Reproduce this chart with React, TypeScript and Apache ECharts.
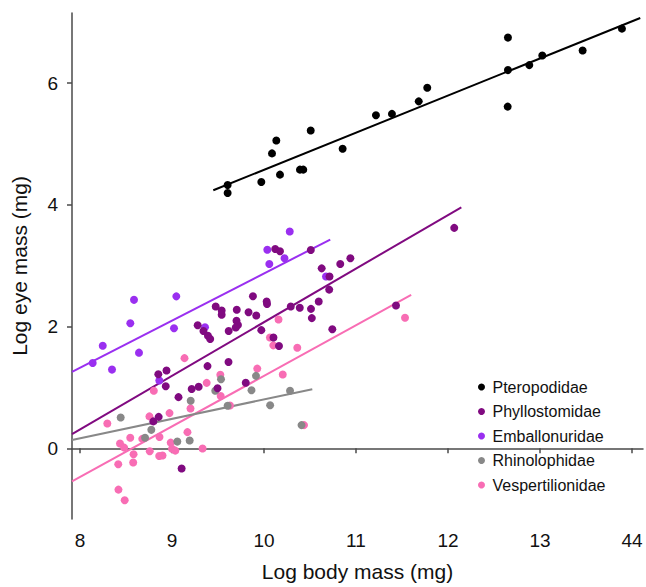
import React, { useEffect, useRef } from "react";
import * as echarts from "echarts";

// ---- Data ----
const familyNames = ["Pteropodidae", "Phyllostomidae", "Emballonuridae", "Rhinolophidae", "Vespertilionidae"];
const familyColors = ["#000000", "#800a80", "#9a2ff0", "#888888", "#f86db4"];

const xTickValues = [8, 9, 10, 11, 12, 13, 14];
const xTickLabels = ["8", "9", "10", "11", "12", "13", "44"];
const yTickValues = [0, 2, 4, 6];

const pteroX = [9.605, 9.605, 9.971, 10.087, 10.134, 10.174, 10.391, 10.427, 10.508, 10.855, 11.217, 11.391, 11.682, 11.775, 12.652, 12.652, 12.649, 12.884, 13.025, 13.464, 13.891];
const pteroY = [4.326, 4.195, 4.375, 4.845, 5.057, 4.496, 4.578, 4.578, 5.221, 4.921, 5.471, 5.494, 5.7, 5.925, 6.748, 6.214, 5.614, 6.296, 6.453, 6.535, 6.895];

const phylloX = [8.797, 8.855, 8.851, 8.94, 8.932, 9.071, 9.214, 9.29, 9.105, 9.279, 9.342, 9.391, 9.415, 9.386, 9.475, 9.54, 9.54, 9.614, 9.495, 9.616, 9.704, 9.701, 9.717, 9.693, 9.802, 9.832, 9.88, 9.916, 9.971, 10.029, 10.033, 10.103, 10.163, 10.122, 10.174, 10.291, 10.389, 10.509, 10.511, 10.52, 10.595, 10.627, 10.712, 10.709, 10.743, 10.829, 10.939, 12.068, 11.435];
const phylloY = [0.442, 0.516, 1.216, 1.277, 1.02, 0.84, 0.974, 1.011, -0.332, 2.021, 1.926, 1.849, 1.797, 1.35, 2.329, 2.263, 2.193, 1.419, 0.987, 1.926, 2.275, 2.095, 2.025, 1.984, 1.077, 2.234, 2.499, 2.182, 1.941, 2.411, 2.37, 1.82, 1.681, 3.273, 3.237, 2.329, 2.308, 3.257, 2.291, 2.139, 2.411, 2.956, 2.823, 2.607, 1.956, 3.028, 3.123, 3.622, 2.345];

const embaX = [8.138, 8.247, 8.348, 8.547, 8.587, 8.641, 8.862, 9.047, 9.022, 9.359, 10.036, 10.058, 10.223, 10.28, 10.674];
const embaY = [1.4, 1.686, 1.293, 2.054, 2.439, 1.571, 1.113, 2.496, 1.972, 1.989, 3.262, 3.028, 3.123, 3.563, 2.823];

const rhinoX = [8.442, 8.775, 8.707, 9.058, 9.192, 9.203, 9.47, 9.533, 9.605, 9.864, 9.913, 10.067, 10.283, 10.408];
const rhinoY = [0.507, 0.303, 0.172, 0.11, 0.128, 0.782, 0.944, 1.133, 0.699, 0.953, 1.19, 0.707, 0.944, 0.381];

const vespX = [8.297, 8.435, 8.48, 8.546, 8.416, 8.582, 8.578, 8.418, 8.486, 8.755, 8.802, 8.973, 8.677, 8.758, 8.864, 8.986, 9.0, 9.036, 8.861, 8.897, 9.168, 9.332, 9.201, 9.377, 9.525, 9.529, 9.63, 9.136, 9.927, 10.204, 10.158, 10.065, 10.101, 10.362, 11.533, 10.435];
const vespY = [0.406, 0.079, 0.011, 0.172, -0.262, -0.098, -0.234, -0.679, -0.854, 0.524, 0.944, 0.578, 0.155, -0.049, 0.185, 0.093, -0.008, -0.038, -0.126, -0.119, 0.265, -0.005, 0.655, 1.075, 1.208, 0.859, 0.704, 1.481, 1.309, 1.211, 2.116, 1.82, 1.691, 1.653, 2.144, 0.381];

// Regression line endpoints [x0, y0, x1, y1]
const pteroFit = [9.449, 4.24, 14.09, 7.07];
const phylloFit = [7.913, 0.234, 12.145, 3.96];
const embaFit = [7.913, 1.255, 10.72, 3.43];
const rhinoFit = [7.913, 0.136, 10.525, 0.97];
const vespFit = [7.913, -0.545, 11.6, 2.52];

const zip = (xs: number[], ys: number[]) => xs.map((x, i) => [x, ys[i]]);
const seg = (f: number[]) => [[f[0], f[1]], [f[2], f[3]]];

const FONT = "'Liberation Sans', Arial, Helvetica, sans-serif";

export default function App() {
  const ref = useRef<HTMLDivElement>(null);
  useEffect(() => {
    document.body.style.margin = "0";
    const chart = echarts.init(ref.current!, null, { renderer: "svg" });
    // draw order: pink, grey, violet, purple, black
    const groups = [
      { idx: 4, xs: vespX, ys: vespY, fit: vespFit },
      { idx: 3, xs: rhinoX, ys: rhinoY, fit: rhinoFit },
      { idx: 2, xs: embaX, ys: embaY, fit: embaFit },
      { idx: 1, xs: phylloX, ys: phylloY, fit: phylloFit },
      { idx: 0, xs: pteroX, ys: pteroY, fit: pteroFit },
    ];
    const series: any[] = [];
    groups.forEach((g) => {
      series.push({
        type: "line",
        name: familyNames[g.idx],
        data: seg(g.fit),
        symbol: "none",
        lineStyle: { color: familyColors[g.idx], width: 2 },
        itemStyle: { color: familyColors[g.idx] },
        silent: true,
        z: 2,
      });
    });
    groups.forEach((g) => {
      series.push({
        type: "scatter",
        name: familyNames[g.idx],
        data: zip(g.xs, g.ys),
        symbol: "circle",
        symbolSize: 8,
        itemStyle: { color: familyColors[g.idx], opacity: 1 },
        z: 3,
      });
    });
    const axisColor = "#4a4a4a";
    chart.setOption({
      animation: false,
      textStyle: { fontFamily: FONT },
      grid: { left: 72, right: 3, top: 13, bottom: 66, containLabel: false },
      xAxis: {
        type: "value",
        min: 7.913,
        max: 14.12,
        name: "Log body mass (mg)",
        nameLocation: "middle",
        nameGap: 42,
        nameTextStyle: { fontSize: 21, color: "#111", fontFamily: FONT },
        axisLine: { show: true, lineStyle: { color: axisColor, width: 1.5 } },
        axisTick: { show: true, length: 5, customValues: xTickValues, lineStyle: { color: axisColor, width: 1.5 } },
        axisLabel: {
          customValues: xTickValues,
          fontSize: 19,
          color: "#111",
          margin: 12,
          fontFamily: FONT,
          formatter: (v: number) => {
            const i = xTickValues.indexOf(Math.round(v));
            return i >= 0 ? xTickLabels[i] : "";
          },
        },
        splitLine: { show: false },
      },
      yAxis: {
        type: "value",
        min: -1.162,
        max: 7.152,
        name: "Log eye mass (mg)",
        nameLocation: "middle",
        nameGap: 42,
        nameRotate: 90,
        nameTextStyle: { fontSize: 21, color: "#111", fontFamily: FONT },
        axisLine: { show: true, lineStyle: { color: axisColor, width: 1.5 } },
        axisTick: { show: true, length: 5, customValues: yTickValues, lineStyle: { color: axisColor, width: 1.5 } },
        axisLabel: {
          customValues: yTickValues,
          fontSize: 19,
          color: "#111",
          margin: 14,
          fontFamily: FONT,
          formatter: (v: number) => String(Math.round(v)),
        },
        splitLine: { show: false },
      },
      legend: {
        data: familyNames,
        orient: "vertical",
        left: 473,
        top: 374,
        icon: "circle",
        itemWidth: 12,
        itemHeight: 7,
        itemGap: 8.5,
        textStyle: { fontSize: 16, lineHeight: 16, color: "#111", fontFamily: FONT },
      },
      series,
    });
    return () => chart.dispose();
  }, []);
  return <div ref={ref} style={{ width: 646, height: 587 }} />;
}
